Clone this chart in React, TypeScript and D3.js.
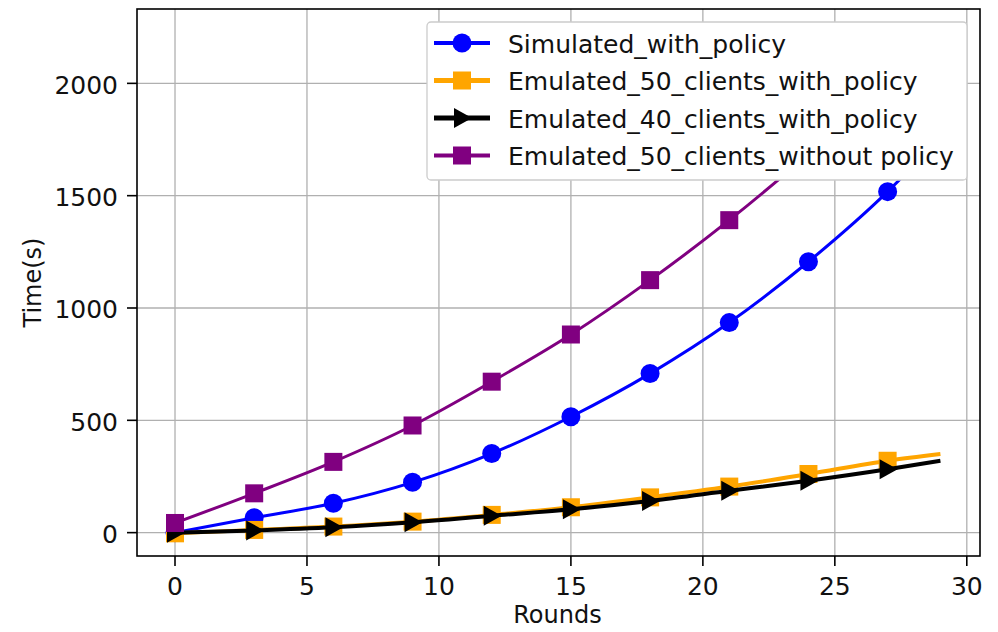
import React from "react";
import * as d3 from "d3";

const rounds = [0, 3, 6, 9, 12, 15, 18, 21, 24, 27, 29];
const simulatedWithPolicy = [0, 66, 131, 224, 352, 516, 708, 935, 1206, 1518, 1760];
const emulated50WithPolicy = [-3, 12, 27, 49, 79, 113, 157, 205, 261, 320, 350];
const emulated40WithPolicy = [0, 10, 24, 46, 75, 104, 141, 186, 231, 282, 320];
const emulated50WithoutPolicy = [43, 175, 315, 477, 672, 882, 1124, 1391, 1685, 2000, 2220];

const xTicks = [0, 5, 10, 15, 20, 25, 30];
const yTicks = [0, 500, 1000, 1500, 2000];

const seriesNames = [
  "Simulated_with_policy",
  "Emulated_50_clients_with_policy",
  "Emulated_40_clients_with_policy",
  "Emulated_50_clients_without policy",
];

type Marker = "circle" | "square" | "triangle";

const series: { name: string; values: number[]; color: string; marker: Marker; width: number }[] = [
  { name: seriesNames[0], values: simulatedWithPolicy, color: "#0000ff", marker: "circle", width: 3 },
  { name: seriesNames[1], values: emulated50WithPolicy, color: "#ffa500", marker: "square", width: 4 },
  { name: seriesNames[2], values: emulated40WithPolicy, color: "#000000", marker: "triangle", width: 4 },
  { name: seriesNames[3], values: emulated50WithoutPolicy, color: "#800080", marker: "square", width: 3 },
];

const font = "DejaVu Sans, sans-serif";

function MarkerShape({ type, x, y, color }: { type: Marker; x: number; y: number; color: string }) {
  if (type === "circle") return <circle cx={x} cy={y} r={9.5} fill={color} />;
  if (type === "square") return <rect x={x - 9} y={y - 9} width={18} height={18} fill={color} />;
  return <path d={`M${x - 8},${y - 10} L${x + 10},${y} L${x - 8},${y + 10} Z`} fill={color} />;
}

export default function App() {
  const width = 998;
  const height = 632;
  const plot = { left: 137, right: 980, top: 9, bottom: 556 };

  const xScale = d3.scaleLinear().domain([-1.44, 30.5]).range([plot.left, plot.right]);
  const yScale = d3.scaleLinear().domain([-104, 2331]).range([plot.bottom, plot.top]);

  const line = d3
    .line<number>()
    .x((_, i) => xScale(rounds[i]))
    .y((d) => yScale(d))
    .curve(d3.curveMonotoneX);

  // legend
  const legend = { x: 427, y: 22, w: 540, h: 158 };
  const rowY = (i: number) => legend.y + 21 + i * 37.5;

  return (
    <svg
      width={width}
      height={height}
      style={{ position: "absolute", left: 0, top: 0, background: "#fff" }}
      fontFamily={font}
    >
      <defs>
        <clipPath id="plotArea">
          <rect x={plot.left} y={plot.top} width={plot.right - plot.left} height={plot.bottom - plot.top} />
        </clipPath>
      </defs>

      {/* Grid */}
      {xTicks.map((t) => (
        <line key={"gx" + t} x1={xScale(t)} x2={xScale(t)} y1={plot.top} y2={plot.bottom} stroke="#b0b0b0" strokeWidth={1.3} />
      ))}
      {yTicks.map((t) => (
        <line key={"gy" + t} x1={plot.left} x2={plot.right} y1={yScale(t)} y2={yScale(t)} stroke="#b0b0b0" strokeWidth={1.3} />
      ))}

      {/* Lines and markers */}
      <g clipPath="url(#plotArea)">
        {series.map((s) => (
          <g key={s.name}>
            <path d={line(s.values) ?? ""} fill="none" stroke={s.color} strokeWidth={s.width} />
            {s.values.map((v, i) =>
              rounds[i] % 3 === 0 ? (
                <MarkerShape key={i} type={s.marker} x={xScale(rounds[i])} y={yScale(v)} color={s.color} />
              ) : null
            )}
          </g>
        ))}
      </g>

      {/* Frame */}
      <rect
        x={plot.left}
        y={plot.top}
        width={plot.right - plot.left}
        height={plot.bottom - plot.top}
        fill="none"
        stroke="#000"
        strokeWidth={1.6}
      />

      {/* X axis ticks */}
      {xTicks.map((t) => (
        <g key={"xt" + t}>
          <line x1={xScale(t)} x2={xScale(t)} y1={plot.bottom} y2={plot.bottom + 10} stroke="#000" strokeWidth={1.6} />
          <text x={xScale(t)} y={595} textAnchor="middle" fontSize={25} fill="#111">
            {t}
          </text>
        </g>
      ))}

      {/* Y axis ticks */}
      {yTicks.map((t) => (
        <g key={"yt" + t}>
          <line x1={plot.left - 10} x2={plot.left} y1={yScale(t)} y2={yScale(t)} stroke="#000" strokeWidth={1.6} />
          <text x={118} y={yScale(t) + 2} textAnchor="end" dominantBaseline="central" fontSize={25} fill="#111">
            {t}
          </text>
        </g>
      ))}

      {/* Axis labels */}
      <text x={(plot.left + plot.right) / 2 - 1} y={623} textAnchor="middle" fontSize={24} fill="#111">
        Rounds
      </text>
      <text
        transform={`translate(41, ${(plot.top + plot.bottom) / 2}) rotate(-90)`}
        textAnchor="middle"
        fontSize={24}
        fill="#111"
      >
        Time(s)
      </text>

      {/* Legend */}
      <rect
        x={legend.x}
        y={legend.y}
        width={legend.w}
        height={legend.h}
        rx={4}
        fill="#fff"
        stroke="#cccccc"
        strokeWidth={1.3}
      />
      {series.map((s, i) => (
        <g key={"lg" + s.name}>
          <line x1={434} x2={490} y1={rowY(i)} y2={rowY(i)} stroke={s.color} strokeWidth={s.width + 1} />
          <MarkerShape type={s.marker} x={462} y={rowY(i)} color={s.color} />
          <text x={508} y={rowY(i) + 1} dominantBaseline="central" fontSize={25} fill="#111">
            {s.name}
          </text>
        </g>
      ))}
    </svg>
  );
}
